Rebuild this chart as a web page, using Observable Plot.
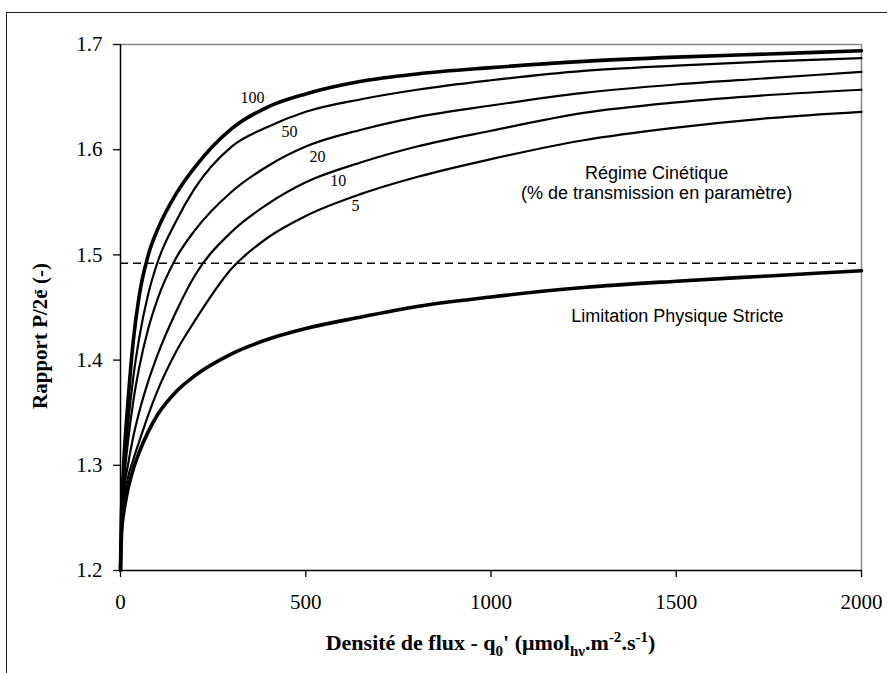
<!DOCTYPE html>
<html><head><meta charset="utf-8">
<script src="https://cdn.jsdelivr.net/npm/d3@7"></script>
<script src="https://cdn.jsdelivr.net/npm/@observablehq/plot@0.6"></script>
<style>
body{margin:0;background:#fff;}
#wrap{position:relative;width:887px;height:673px;overflow:hidden;background:#fff;}
#frame{position:absolute;left:6px;top:12px;width:900px;height:700px;border-left:1.5px solid #222;border-top:1.5px solid #222;}
#chart{position:absolute;left:0;top:0;}
</style></head><body>
<div id="wrap"><div id="frame"></div><div id="chart"></div></div>
<script>
// ---- data ----
const q = [0, 2, 5, 10, 20, 35, 50, 75, 100, 150, 200, 300, 400, 500, 650, 800, 1000, 1250, 1500, 1750, 2000];
const curve100 = [1.200, 1.245, 1.275, 1.310, 1.360, 1.420, 1.460, 1.500, 1.524, 1.558, 1.583, 1.620, 1.641, 1.653, 1.665, 1.672, 1.678, 1.684, 1.688, 1.691, 1.694];
const curve50  = [1.200, 1.242, 1.268, 1.297, 1.338, 1.385, 1.420, 1.463, 1.493, 1.532, 1.563, 1.603, 1.622, 1.636, 1.648, 1.657, 1.666, 1.675, 1.680, 1.684, 1.687];
const curve20  = [1.200, 1.238, 1.262, 1.287, 1.322, 1.362, 1.392, 1.430, 1.458, 1.497, 1.523, 1.560, 1.585, 1.603, 1.619, 1.631, 1.642, 1.654, 1.662, 1.668, 1.674];
const curve10  = [1.200, 1.232, 1.255, 1.278, 1.300, 1.328, 1.350, 1.380, 1.405, 1.446, 1.480, 1.522, 1.549, 1.569, 1.588, 1.603, 1.618, 1.635, 1.645, 1.652, 1.657];
const curve5   = [1.200, 1.230, 1.250, 1.268, 1.288, 1.306, 1.322, 1.348, 1.371, 1.408, 1.437, 1.487, 1.517, 1.537, 1.558, 1.574, 1.591, 1.609, 1.621, 1.630, 1.636];
const curveLim = [1.200, 1.228, 1.245, 1.258, 1.277, 1.297, 1.312, 1.332, 1.348, 1.370, 1.385, 1.406, 1.420, 1.430, 1.441, 1.451, 1.460, 1.469, 1.475, 1.480, 1.485];
const dashedLevel = 1.492;

const curveLabels = ["100", "50", "20", "10", "5"];
const curveLabelQ = [356, 456, 532, 588, 634];
const curveLabelV = [1.649, 1.617, 1.593, 1.570, 1.547];

const annotText = ["Régime Cinétique", "(% de transmission en paramètre)", "Limitation Physique Stricte"];
const annotQ = [1447, 1447, 1503];
const annotV = [1.578, 1.559, 1.442];

const xTicks = [0, 500, 1000, 1500, 2000];
const yTicks = [1.2, 1.3, 1.4, 1.5, 1.6, 1.7];

// ---- build tables ----
const thinSeries = {"50": curve50, "20": curve20, "10": curve10, "5": curve5};
const thickSeries = {"100": curve100, "lim": curveLim};
const toRows = obj => Object.entries(obj).flatMap(([s, vals]) => vals.map((v, i) => ({s, q: q[i], v})));
const thin = toRows(thinSeries);
const thick = toRows(thickSeries);
const labelRows = curveLabels.map((t, i) => ({t, q: curveLabelQ[i], v: curveLabelV[i]}));
const annotRows = annotText.map((t, i) => ({t, q: annotQ[i], v: annotV[i]}));

const serif = "'Liberation Serif','Times New Roman',Times,serif";
const sans = "'Liberation Sans',Arial,Helvetica,sans-serif";

const plot = Plot.plot({
  width: 887, height: 673,
  marginLeft: 120, marginRight: 26, marginTop: 44, marginBottom: 103,
  x: {domain: [0, 2000]},
  y: {domain: [1.2, 1.7]},
  style: {fontFamily: serif, fontSize: "21px", color: "#000", background: "transparent", overflow: "visible"},
  marks: [
    Plot.ruleY([1.7], {stroke: "#888", strokeWidth: 1.5}),
    Plot.ruleX([2000], {stroke: "#888", strokeWidth: 1.5}),
    Plot.ruleY([dashedLevel], {stroke: "#000", strokeWidth: 1.5, strokeDasharray: "8,5"}),
    Plot.line(thin, {x: "q", y: "v", z: "s", curve: "monotone-x", stroke: "#000", strokeWidth: 2.2}),
    Plot.line(thick, {x: "q", y: "v", z: "s", curve: "monotone-x", stroke: "#000", strokeWidth: 3.6}),
    Plot.axisX({ticks: xTicks, tickFormat: d => String(d), tickSize: 7, tickPadding: 17, label: null, fontSize: 21, strokeWidth: 1.3}),
    Plot.axisY({ticks: yTicks, tickFormat: d => d.toFixed(1), tickSize: 7, tickPadding: 11, label: null, fontSize: 21, strokeWidth: 1.3}),
    Plot.ruleX([0], {stroke: "#000", strokeWidth: 1.5}),
    Plot.ruleY([1.2], {stroke: "#000", strokeWidth: 1.5}),
    Plot.text(labelRows, {x: "q", y: "v", text: "t", fontFamily: serif, fontSize: 16, fill: "#000", textAnchor: "middle", lineAnchor: "middle"}),
    Plot.text(annotRows, {x: "q", y: "v", text: "t", fontFamily: sans, fontSize: 18, fill: "#000", textAnchor: "middle", lineAnchor: "middle"})
  ]
});
document.getElementById("chart").appendChild(plot);

// ---- axis titles with sub/superscripts ----
const svg = d3.select(plot);
const xs = plot.scale("x"), ys = plot.scale("y");
function rich(text, parts) {
  let off = 0;
  parts.forEach(p => {
    const target = p.k === "sub" ? 6 : p.k === "sup" ? -8 : 0;
    const ts = text.append("tspan").text(p.t).attr("dy", target - off);
    if (p.k) ts.attr("font-size", 15);
    if (p.dx) ts.attr("dx", p.dx);
    off = target;
  });
}
const xTitle = svg.append("text")
  .attr("x", xs.apply(1000)).attr("y", ys.apply(1.2) + 80)
  .attr("text-anchor", "middle").attr("font-family", serif).attr("font-weight", "bold").attr("font-size", 22).attr("fill", "#000");
rich(xTitle, [
  {t: "Densité de flux - q"}, {t: "0", k: "sub"}, {t: "' ("}, {t: "μ"}, {t: "mol"}, {t: "hν", k: "sub"},
  {t: ".m"}, {t: "-2", k: "sup"}, {t: ".s"}, {t: "-1", k: "sup"}, {t: ")"}
]);
const yTitle = svg.append("text")
  .attr("transform", `translate(47,${(ys.apply(1.2) + ys.apply(1.7)) / 2 + 29}) rotate(-90)`)
  .attr("text-anchor", "middle").attr("font-family", serif).attr("font-weight", "bold").attr("font-size", 21).attr("fill", "#000");
rich(yTitle, [{t: "Rapport P/2e"}, {t: "-", k: "sup", dx: -5}, {t: " (-)"}]);
</script></body></html>
